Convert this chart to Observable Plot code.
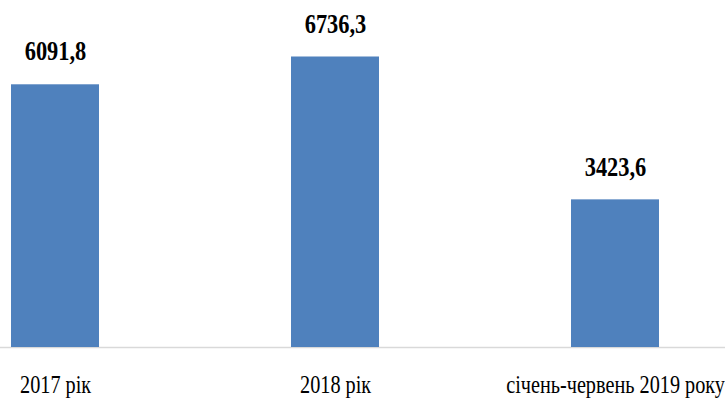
<!DOCTYPE html>
<html>
<head>
<meta charset="utf-8">
<script src="https://cdn.jsdelivr.net/npm/d3@7"></script>
<script src="https://cdn.jsdelivr.net/npm/@observablehq/plot@0.6"></script>
<style>
  html, body { margin: 0; padding: 0; background: #fff; }
  #chart svg { display: block; }
</style>
</head>
<body>
<div id="chart"></div>
<script>
const categories = ["2017 рік", "2018 рік", "січень-червень 2019 року"];
const values = [6091.8, 6736.3, 3423.6];
const valueLabels = ["6091,8", "6736,3", "3423,6"];

const data = categories.map((c, i) => ({ category: c, value: values[i], label: valueLabels[i] }));

const serif = "'Liberation Serif', 'Times New Roman', serif";

const chart = Plot.plot({
  width: 725,
  height: 401,
  marginLeft: 0,
  marginRight: 0,
  marginTop: 2,
  marginBottom: 54,
  style: { background: "#fff", overflow: "visible", fontFamily: serif },
  x: { domain: categories, paddingInner: 0.686, paddingOuter: 0.1375, align: 0.143, label: null },
  y: { domain: [0, 8000], axis: null },
  marks: [
    Plot.ruleY([0], { stroke: "#d9d9d9", strokeWidth: 1.5 }),
    Plot.barY(data, { x: "category", y: "value", fill: "#4f81bd" }),
    Plot.text(data, { x: "category", y: "value", text: "label", dy: -33, fontSize: 27, fontWeight: "bold", fill: "#000", fontFamily: serif }),
    Plot.axisX({ tickSize: 0, tickPadding: 28, fontSize: 25, fill: "#000", fontFamily: serif })
  ]
});
document.getElementById("chart").appendChild(chart);

// horizontally condense every text like the reference, scaling about its own centre
const svgNS = "http://www.w3.org/2000/svg";
const svgRect = chart.getBoundingClientRect();
Array.from(chart.querySelectorAll("text")).forEach(t => {
  const r = t.getBoundingClientRect();
  if (!r.width) return;
  const bold = getComputedStyle(t).fontWeight;
  const f = (bold === "bold" || +bold >= 600) ? 0.83 : 0.81;
  const parent = t.parentNode;
  const ctm = parent.getCTM();
  const cx = r.left - svgRect.left + r.width / 2 - (ctm ? ctm.e : 0);
  const g = document.createElementNS(svgNS, "g");
  g.setAttribute("transform", `translate(${cx},0) scale(${f},1) translate(${-cx},0)`);
  parent.insertBefore(g, t);
  g.appendChild(t);
});
</script>
</body>
</html>
